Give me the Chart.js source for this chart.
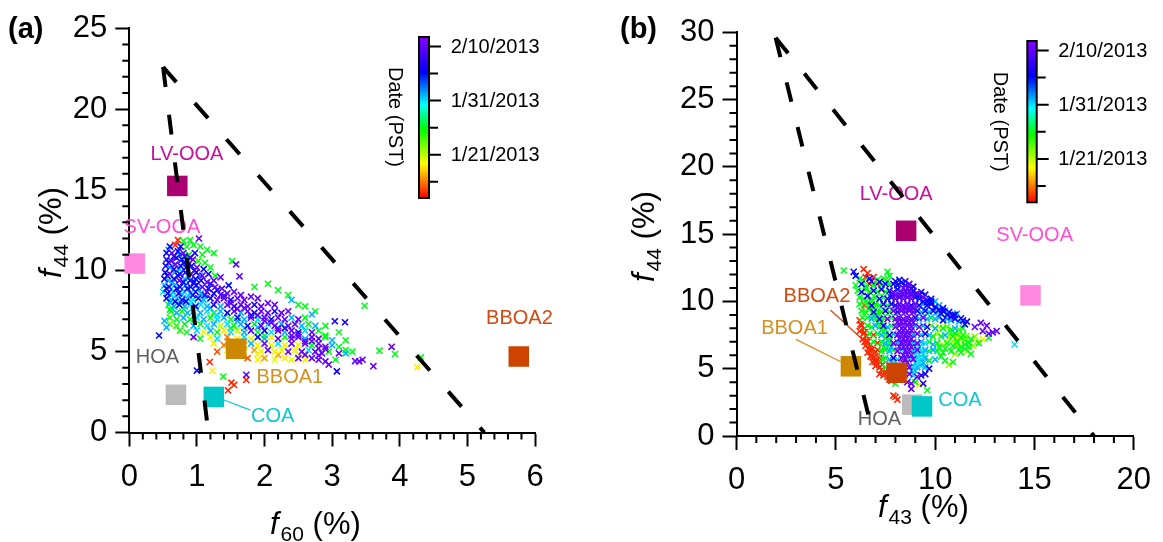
<!DOCTYPE html>
<html>
<head>
<meta charset="utf-8">
<script src="https://cdn.jsdelivr.net/npm/chart.js@4.4.1/dist/chart.umd.min.js"></script>
<style>
  html, body { margin: 0; padding: 0; background: #fff; }
  #wrap { position: relative; width: 1163px; height: 542px; }
  canvas { position: absolute; top: 0; }
  #chartA { left: 0; }
  #chartB { left: 580px; }
</style>
</head>
<body>
<div id="wrap">
  <canvas id="chartA" width="580" height="542"></canvas>
  <canvas id="chartB" width="583" height="542"></canvas>
</div>
<script>
const FONT = '"Liberation Sans", Arial, sans-serif';

// PMF factor profiles
const factorNames = ['LV-OOA', 'SV-OOA', 'HOA', 'COA', 'BBOA1', 'BBOA2'];
const factorF44 = [15.25, 10.45, 2.33, 2.2, 5.18, 4.7];
const factorF60 = [0.71, 0.08, 0.69, 1.25, 1.58, 5.76];
const factorF43 = [8.54, 14.8, 8.85, 9.34, 5.76, 8.06];

// triangle guide lines (apex, left end, right end)
const triF60 = [0.5, 1.17, 5.25];
const triF44A = [22.6, 0, 0];
const triF43 = [1.97, 6.9, 18.0];
const triF44B = [29.6, 0, 0];

// colour bar: day 0 = 1/13/2013
const dayMax = 29.75;
const cbarTickDays = [8, 18, 28];
const cbarTickLabels = ['1/21/2013', '1/31/2013', '2/10/2013'];
const cbarMinorDays = [3, 13, 23];

// observations [f60, f44, day]
const obsA = [
  [0.72,11.9,1],[0.8,11.85,13],[0.9,11.9,13],[1.03,12.0,28],
  [0.6,11.5,23],[0.68,11.6,1],[0.76,11.5,23],[0.85,11.5,13],[0.95,11.6,13],[1.05,11.5,13],[1.15,11.3,13],
  [0.55,11.1,24],[0.63,11.1,28],[0.72,11.2,23],[0.8,11.1,28],[0.88,11.0,13],[0.97,11.1,24],[1.08,11.0,13],[1.25,11.1,13],
  [0.55,10.7,23],[0.62,10.6,28],[0.7,10.8,24],[0.78,10.7,23],[0.86,10.6,23],[0.94,10.7,28],[1.02,10.6,12],[1.12,10.5,13],
  [0.54,10.3,24],[0.6,10.2,19],[0.68,10.4,28],[0.76,10.3,23],[0.84,10.2,23],[0.92,10.3,24],[1.0,10.2,28],[1.1,10.1,23],[1.2,10.2,13],
  [0.53,9.9,23],[0.6,9.8,28],[0.67,9.9,19],[0.75,9.8,23],[0.83,9.9,24],[0.91,9.8,28],[0.99,9.9,23],[1.08,9.7,28],[1.17,9.8,24],[1.27,9.7,13],
  [0.52,9.5,24],[0.58,9.4,19],[0.66,9.5,23],[0.74,9.4,28],[0.82,9.5,19],[0.9,9.4,24],[0.98,9.5,23],[1.06,9.4,23],[1.15,9.3,28],[1.25,9.4,28],[1.35,9.6,28],
  [0.52,9.1,19],[0.59,9.0,24],[0.67,9.1,18],[0.75,9.0,23],[0.83,9.1,19],[0.91,9.0,23],[0.99,9.1,24],[1.08,9.0,28],[1.17,8.9,23],[1.27,9.0,28],[1.37,8.9,28],[1.47,9.1,23],
  [0.5,8.7,18],[0.57,8.6,23],[0.65,8.7,19],[0.73,8.6,24],[0.81,8.7,18],[0.9,8.6,19],[0.98,8.7,23],[1.06,8.6,19],[1.15,8.7,28],[1.25,8.6,24],[1.35,8.5,28],[1.45,8.6,28],[1.55,8.7,28],[1.65,8.5,28],
  [0.55,8.3,24],[0.62,8.2,19],[0.7,8.3,18],[0.78,8.2,23],[0.86,8.3,19],[0.94,8.2,18],[1.02,8.3,24],[1.1,8.2,19],[1.2,8.3,23],[1.3,8.2,28],[1.4,8.3,28],[1.5,8.2,24],[1.6,8.3,28],[1.7,8.2,28],[1.8,8.4,28],[1.9,8.3,28],
  [0.58,7.9,13],[0.66,7.8,19],[0.74,7.9,23],[0.82,7.8,19],[0.9,7.9,18],[0.98,7.8,23],[1.06,7.9,18],[1.15,7.8,19],[1.25,7.9,24],[1.35,7.8,19],[1.45,7.9,28],[1.55,7.8,23],[1.65,7.9,28],[1.75,7.8,28],[1.85,7.9,24],[1.95,7.8,28],[2.05,8.0,28],[2.15,7.9,28],
  [0.62,7.5,13],[0.7,7.4,19],[0.78,7.5,12],[0.86,7.4,19],[0.95,7.5,18],[1.05,7.4,19],[1.15,7.5,18],[1.25,7.4,13],[1.35,7.5,19],[1.45,7.4,23],[1.55,7.5,28],[1.65,7.4,19],[1.75,7.5,28],[1.85,7.4,24],[1.95,7.5,28],[2.05,7.4,28],[2.15,7.5,24],[2.25,7.4,28],[2.35,7.5,28],
  [0.6,7.1,12],[0.7,7.0,13],[0.8,7.1,19],[0.9,7.0,13],[1.0,7.1,18],[1.1,7.0,19],[1.2,7.1,13],[1.3,7.0,18],[1.4,7.1,19],[1.5,7.0,13],[1.6,7.1,23],[1.7,7.0,19],[1.8,7.1,28],[1.9,7.0,18],[2.0,7.1,28],[2.1,7.0,23],[2.2,7.1,28],[2.3,7.0,28],[2.4,7.1,19],[2.5,7.0,28],[2.6,7.1,13],
  [0.6,6.7,10],[0.7,6.6,12],[0.82,6.7,13],[0.95,6.6,19],[1.05,6.7,13],[1.15,6.6,18],[1.25,6.7,19],[1.35,6.6,8],[1.45,6.7,18],[1.55,6.6,13],[1.65,6.7,19],[1.75,6.6,23],[1.85,6.7,13],[1.95,6.6,28],[2.05,6.7,18],[2.15,6.6,28],[2.25,6.7,19],[2.35,6.6,28],[2.45,6.7,28],[2.55,6.6,19],[2.65,6.7,13],[2.75,6.6,19],
  [0.75,6.3,12],[0.85,6.2,13],[1.0,6.3,18],[1.1,6.2,7],[1.2,6.3,19],[1.3,6.2,13],[1.4,6.3,6],[1.5,6.2,18],[1.6,6.3,8],[1.7,6.2,19],[1.8,6.3,28],[1.9,6.2,13],[2.0,6.3,23],[2.1,6.2,18],[2.2,6.3,28],[2.3,6.2,19],[2.4,6.3,28],[2.5,6.2,24],[2.6,6.3,18],[2.7,6.2,28],[2.8,6.3,13],[2.9,6.0,13],
  [0.95,5.9,28],[1.05,5.8,13],[1.2,5.9,7],[1.3,5.8,18],[1.45,5.9,3],[1.6,5.8,6],[1.7,5.9,18],[1.8,5.8,7],[1.9,5.9,23],[2.0,5.8,19],[2.1,5.9,6],[2.2,5.8,28],[2.3,5.9,13],[2.4,5.8,28],[2.5,5.9,28],[2.6,5.8,19],[2.7,5.9,28],[2.8,5.8,28],[2.9,5.9,13],[3.0,5.7,19],
  [1.25,5.5,6],[1.4,5.4,3],[1.55,5.5,7],[1.7,5.4,4],[1.8,5.5,19],[1.9,5.4,6],[2.0,5.5,28],[2.1,5.4,7],[2.2,5.5,18],[2.3,5.4,6],[2.4,5.5,28],[2.5,5.4,7],[2.6,5.5,28],[2.7,5.4,13],[2.8,5.5,28],[2.9,5.3,28],[3.0,5.4,19],[3.1,5.3,13],[3.2,5.1,13],
  [1.3,5.0,2],[1.45,5.1,7],[1.7,5.0,6],[1.85,5.1,4],[1.95,5.0,7],[2.05,5.1,28],[2.15,5.0,6],[2.25,5.1,7],[2.35,5.0,28],[2.45,5.1,6],[2.55,5.0,28],[2.65,5.1,18],[2.75,5.0,28],[2.85,4.9,28],[2.95,5.0,13],[3.1,4.9,28],[3.2,4.9,19],[3.3,5.0,13],
  [1.75,4.6,2],[1.9,4.5,6],[2.0,4.6,4],[2.15,4.5,7],[2.3,4.6,6],[2.4,4.5,7],[2.5,4.6,28],[2.6,4.5,6],[2.7,4.6,28],[2.8,4.5,28],[2.9,4.4,28],[2.95,4.2,28],[3.05,4.5,13],[3.4,4.4,28],[3.45,4.5,28],
  [0.44,6.0,23],[1.0,3.83,23],[1.23,3.83,6],[1.19,4.36,1],[1.39,3.46,13],[1.51,3.08,1],[1.55,2.94,1],[1.46,2.6,1],[1.73,3.57,28],[1.73,3.25,1],
  [1.52,10.6,13],[1.58,10.4,28],[1.63,9.66,28],[3.04,6.88,24],[3.19,6.82,24],[3.48,7.84,13],[3.61,4.1,28],[3.88,5.3,28],[3.93,4.85,13],
  [4.26,4.04,6],[4.31,4.64,13],[3.7,5.06,13],[3.34,4.42,28],[3.07,3.78,24],[1.85,9.0,13],[2.05,9.2,13],[2.2,8.8,13],[2.35,8.5,13],
  [2.6,7.8,13],[2.75,7.5,13],[0.55,6.5,19],[0.52,6.9,19],[0.6,7.6,13],[2.5,7.9,13],[2.7,7.3,19],[2.9,6.6,13],[3.1,6.2,13],[3.2,5.7,13],[2.4,8.2,19],
  [0.58,11.3,19],[0.66,10.9,23],[0.74,11.0,19],[0.82,10.9,23],[0.9,10.8,24],[0.58,10.5,23],[0.66,10.1,23],[0.74,10.1,19],[0.8,10.5,23],[0.88,10.4,19],
  [0.96,10.0,23],[0.56,9.7,23],[0.64,9.3,19],[0.72,9.7,23],[0.8,9.3,23],[0.88,9.6,19],[0.96,9.3,23],[1.04,9.7,19],[0.55,8.9,23],[0.62,8.5,18],
  [0.7,8.9,23],[0.78,8.5,19],[0.86,8.9,23],[0.94,8.5,23],[1.02,8.9,19],[1.12,8.5,23],[0.6,8.05,19],[0.68,8.1,23],[0.76,8.05,18],[0.84,8.1,23],
  [1.2,9.2,23],[1.3,8.8,23],[1.4,8.45,24],[1.5,8.0,28],[1.6,7.65,28],[1.7,7.7,28],[1.8,7.25,24],[1.9,7.25,28],[2.0,6.9,28],[2.1,6.8,28],
  [2.2,6.45,28],[2.3,6.45,24],[2.4,6.0,28],[2.5,6.05,28],[2.6,5.65,28],[2.7,5.65,28],[2.8,5.2,28],[2.9,5.15,28],[2.6,4.8,28],[2.8,4.75,28],
  [1.2,7.7,19],[1.1,8.45,18],[1.3,7.25,18],[1.6,6.9,19],[1.7,6.45,18],[1.5,6.45,13],[1.9,6.5,19],[2.0,6.0,13],[1.6,5.2,7],[1.9,4.85,6],[2.2,4.8,4],[2.5,4.8,7]
];

// observations [f43, f44, day]
const obsB = [
  [5.4,12.3,13],[5.9,12.2,24],[6.4,12.4,1],[6.6,12.1,1],[7.6,12.2,13],
  [6.0,11.9,23],[6.2,11.7,13],[6.5,11.8,1],[6.7,11.7,24],[6.9,11.8,1],[7.1,11.6,13],[7.4,11.7,13],[7.7,11.9,13],[8.2,11.6,23],[8.5,11.5,24],
  [6.0,11.2,13],[6.3,11.3,23],[6.5,11.1,13],[6.7,11.3,1],[6.9,11.2,13],[7.1,11.3,1],[7.3,11.2,13],[7.5,11.3,23],[7.7,11.2,13],[7.9,11.3,24],[8.1,11.2,23],[8.3,11.4,24],[8.5,11.2,23],[8.7,11.3,28],[8.9,11.1,24],
  [6.1,10.8,13],[6.3,10.7,24],[6.5,10.9,13],[6.7,10.7,13],[6.9,10.8,23],[7.1,10.7,13],[7.3,10.9,24],[7.5,10.7,13],[7.7,10.8,23],[7.9,10.7,28],[8.1,10.9,23],[8.3,10.7,28],[8.5,10.8,24],[8.7,10.7,28],[8.9,10.8,23],[9.1,10.6,28],[9.3,10.7,24],[9.5,10.5,23],
  [6.2,10.3,13],[6.4,10.2,13],[6.6,10.4,24],[6.8,10.2,13],[7.0,10.3,13],[7.2,10.2,23],[7.4,10.3,13],[7.6,10.2,24],[7.8,10.3,23],[8.0,10.2,28],[8.2,10.3,24],[8.4,10.2,28],[8.6,10.3,28],[8.8,10.2,28],[9.0,10.3,24],[9.2,10.2,23],[9.4,10.3,28],[9.6,10.1,24],[9.8,10.2,23],[10.0,10.0,19],
  [6.2,9.8,13],[6.45,9.7,1],[6.6,9.9,13],[6.8,9.7,24],[7.0,9.8,13],[7.2,9.7,13],[7.4,9.8,23],[7.6,9.7,13],[7.8,9.8,24],[8.0,9.7,23],[8.2,9.8,28],[8.4,9.7,28],[8.6,9.8,28],[8.8,9.7,24],[9.0,9.8,28],[9.2,9.7,23],[9.4,9.8,19],[9.6,9.7,24],[9.8,9.8,23],[10.0,9.6,24],[10.2,9.7,19],[10.4,9.5,23],
  [6.3,9.3,13],[6.5,9.2,13],[6.7,9.4,13],[6.9,9.2,23],[7.1,9.3,13],[7.3,9.2,13],[7.5,9.3,24],[7.7,9.2,13],[7.9,9.3,28],[8.1,9.2,23],[8.3,9.3,28],[8.5,9.2,28],[8.7,9.3,28],[8.9,9.2,28],[9.1,9.3,24],[9.3,9.2,19],[9.5,9.3,23],[9.7,9.2,19],[9.9,9.3,24],[10.1,9.2,19],[10.3,9.1,23],[10.5,9.3,19],[10.7,9.2,23],[10.9,9.0,24],[11.1,9.1,19],
  [6.2,8.6,1],[6.35,8.8,13],[6.6,8.8,13],[6.8,8.7,19],[7.0,8.8,13],[7.2,8.7,23],[7.4,8.8,13],[7.6,8.7,28],[7.8,8.8,13],[8.0,8.7,28],[8.2,8.8,28],[8.4,8.7,28],[8.6,8.8,28],[8.8,8.7,28],[9.0,8.8,24],[9.2,8.7,19],[9.4,8.8,28],[9.6,8.7,19],[9.8,8.8,13],[10.0,8.7,19],[10.2,8.8,19],[10.4,8.6,23],[10.6,8.7,19],[10.8,8.6,19],[11.0,8.7,23],[11.2,8.5,19],[11.4,8.6,24],[11.6,8.5,23],[12.3,8.4,28],[12.6,8.2,28],
  [6.3,8.2,1],[6.45,8.0,1],[6.6,8.2,13],[6.8,8.1,13],[7.0,8.2,19],[7.2,8.1,13],[7.4,8.2,24],[7.6,8.1,19],[7.8,8.2,13],[8.0,8.1,28],[8.2,8.2,28],[8.4,8.1,28],[8.6,8.2,28],[8.8,8.1,28],[9.0,8.2,19],[9.2,8.1,28],[9.4,8.2,19],[9.6,8.1,24],[9.8,8.2,9],[10.0,8.0,19],[10.2,8.1,8],[10.4,8.0,13],[10.6,8.1,10],[10.8,7.9,13],[11.0,8.0,19],[11.2,7.9,11],[11.4,8.0,13],[12.0,8.1,28],[12.4,7.8,28],[12.7,7.6,28],[12.9,7.7,28],[13.1,7.8,28],
  [6.4,7.6,1],[6.55,7.4,1],[6.7,7.6,13],[6.9,7.5,1],[7.1,7.6,13],[7.3,7.5,19],[7.5,7.6,13],[7.7,7.5,24],[7.9,7.6,19],[8.1,7.5,28],[8.3,7.6,28],[8.5,7.5,28],[8.7,7.6,28],[8.9,7.5,19],[9.1,7.6,28],[9.3,7.5,19],[9.5,7.6,24],[9.7,7.5,19],[9.9,7.4,13],[10.1,7.6,8],[10.3,7.4,13],[10.5,7.5,19],[10.7,7.3,9],[10.9,7.4,13],[11.1,7.2,8],[11.3,7.3,13],[11.5,7.1,11],[11.8,7.2,13],[12.1,7.0,8],[12.4,7.2,7],[12.7,7.3,13],
  [6.6,7.0,1],[6.75,6.8,1],[6.9,7.0,13],[7.1,6.9,1],[7.3,7.0,13],[7.5,6.9,19],[7.7,7.0,13],[7.9,6.9,28],[8.1,7.0,19],[8.3,6.9,28],[8.5,7.0,28],[8.7,6.9,28],[8.9,7.0,19],[9.1,6.9,28],[9.3,7.0,19],[9.5,6.9,18],[9.7,7.0,13],[9.9,6.8,19],[10.1,6.9,13],[10.4,6.8,8],[10.6,6.9,13],[10.9,6.7,13],[11.1,6.8,9],[11.3,6.6,13],[11.5,6.8,13],[11.7,6.6,13],[11.9,6.7,9],[12.2,6.9,13],[14.0,6.8,18],
  [6.8,6.4,1],[6.95,6.2,1],[7.1,6.4,1],[7.3,6.3,13],[7.5,6.4,13],[7.7,6.3,19],[7.9,6.4,13],[8.1,6.3,28],[8.3,6.4,18],[8.5,6.3,28],[8.7,6.4,28],[8.9,6.3,18],[9.1,6.4,28],[9.3,6.3,18],[9.5,6.4,19],[9.7,6.3,13],[9.9,6.4,19],[10.1,6.3,13],[10.4,6.2,13],[10.8,6.3,13],[11.0,6.1,9],[11.3,6.2,13],[11.6,6.3,9],[11.8,6.1,13],
  [6.9,5.8,1],[7.05,5.6,1],[7.2,5.8,1],[7.35,5.7,13],[7.5,5.8,13],[7.7,5.7,19],[7.9,5.8,24],[8.1,5.7,18],[8.3,5.8,28],[8.5,5.7,28],[8.7,5.8,18],[8.9,5.7,28],[9.1,5.8,18],[9.3,5.7,18],[9.5,5.8,19],[9.7,5.6,13],[10.0,5.7,19],[10.5,5.6,13],[10.9,5.5,13],[10.7,5.3,9],
  [7.0,5.2,1],[7.2,5.1,1],[7.35,5.3,1],[7.5,5.1,13],[7.7,5.2,19],[7.9,5.1,18],[8.1,5.2,18],[8.3,5.1,28],[8.5,5.2,18],[8.7,5.1,28],[8.9,5.2,18],[9.1,5.1,19],[9.3,5.2,18],[9.5,5.1,19],[9.7,5.0,24],
  [7.2,4.6,1],[7.4,4.5,1],[7.6,4.4,1],[8.3,4.6,19],[8.5,4.5,18],[8.7,4.6,28],[8.9,4.5,18],[9.1,4.4,28],[9.3,4.5,24],[9.5,4.6,24],
  [7.8,4.1,1],[8.0,3.9,13],[8.6,4.0,28],[8.8,3.9,28],[9.0,4.0,13],[9.2,3.8,6],[9.4,3.9,24],[9.6,3.4,13],[8.8,3.5,28],
  [7.9,3.0,1],[8.1,2.7,1],[8.0,2.9,1],
  [6.2,7.8,1],[6.35,7.2,1],[6.5,6.7,1],[6.6,6.2,1],[6.75,5.9,1],[6.85,5.5,1],[7.0,5.5,1],[6.45,7.0,1],[6.65,6.5,1],[6.9,5.9,1],[7.25,5.5,1],
  [6.4,11.5,13],[6.8,11.5,24],[7.2,11.45,23],[7.6,11.5,13],[8.0,11.5,23],[8.4,11.0,28],[8.6,11.0,28],[8.8,10.95,24],[7.8,10.5,24],[8.0,10.45,28],
  [8.2,10.5,28],[8.4,10.45,28],[8.6,10.55,28],[8.8,10.45,28],[9.0,10.5,24],[9.2,10.45,23],[9.4,10.0,23],[9.6,9.95,23],[9.8,10.0,24],[10.2,9.4,23],
  [10.4,9.3,24],[10.6,9.0,23],[10.8,8.85,23],[11.0,9.0,23],[11.3,8.75,24],[11.5,8.3,23],[8.1,9.5,28],[8.3,9.55,28],[8.5,9.45,28],[8.7,9.5,28],
  [8.9,9.45,28],[8.1,8.45,28],[8.3,8.5,28],[8.5,8.45,28],[8.7,8.4,28],[8.9,8.45,28],[8.2,7.8,28],[8.4,7.85,28],[8.6,7.8,28],[8.8,7.85,28],
  [8.2,7.25,28],[8.4,7.2,28],[8.6,7.25,28],[8.8,7.2,28],[8.2,6.65,28],[8.4,6.6,28],[8.6,6.65,28],[8.8,6.6,28],[8.4,6.0,28],[8.6,6.05,28],
  [8.8,6.0,28],[8.4,5.45,28],[8.6,5.45,28],[9.0,6.65,18],[9.2,6.6,18],[9.0,6.05,18],[9.2,6.05,18],[9.4,6.1,18],[9.0,5.45,18],[9.2,5.5,18],
  [9.4,5.45,19],[7.8,5.45,18],[8.0,5.5,18],[8.2,4.9,18],[8.4,4.85,18],[8.8,4.85,18],[9.0,4.85,19],[7.4,6.6,13],[7.6,6.65,13],[7.8,6.6,19],
  [7.5,7.25,13],[7.7,7.2,13],[7.3,7.85,13],[7.5,7.9,13],[7.1,8.45,13],[7.3,8.5,13],[6.9,9.0,13],[7.1,9.05,13],[6.7,9.55,13],[6.9,9.5,13],
  [6.5,10.0,13],[6.8,10.0,13],[10.8,7.7,11],[11.0,7.65,13],[11.2,7.6,9],[11.4,7.5,13],[11.6,7.45,10],[10.9,7.05,9],[11.1,7.0,13],[11.4,6.95,8],
  [11.7,6.9,13],[12.0,7.4,9],[11.2,6.45,13],[11.5,6.5,13],[10.5,6.5,13],[10.2,6.6,13],[10.3,5.9,13],[6.25,8.3,1],[6.45,7.7,1],[6.55,7.1,1],
  [6.7,6.35,1],[6.8,6.0,1],[6.95,5.65,1],[7.1,5.35,1],[7.3,4.9,1],[7.5,4.8,1]
];

const factorColors = ['#AA0070', '#FF88E2', '#BBBBBB', '#00C8C8', '#CC8800', '#CC4400'];
const labelColors = ['#C8109E', '#FF4FCF', '#606060', '#10C8D0', '#D49020', '#D04A10'];

const hueStops = [[0, 0], [6.4, 60], [12.6, 120], [17.3, 180], [23.2, 240], [29.75, 272]];
function dayColor(d) {
  let h = 272;
  for (let i = 1; i < hueStops.length; i++) {
    if (d <= hueStops[i][0]) {
      const [d0, h0] = hueStops[i - 1], [d1, h1] = hueStops[i];
      h = h0 + (h1 - h0) * (d - d0) / (d1 - d0);
      break;
    }
  }
  return `hsl(${h.toFixed(1)},100%,50%)`;
}

function drawTitle(ctx, x, y, rotate, sub) {
  ctx.save();
  ctx.translate(x, y);
  if (rotate) ctx.rotate(-Math.PI / 2);
  ctx.fillStyle = '#000';
  ctx.textAlign = 'left';
  ctx.textBaseline = 'alphabetic';
  ctx.font = 'italic 31px ' + FONT;
  ctx.fillText('f', 0, 0);
  let cx = ctx.measureText('f').width + 2;
  ctx.font = '21px ' + FONT;
  ctx.fillText(sub, cx, 7);
  cx += ctx.measureText(sub).width;
  ctx.font = '31px ' + FONT;
  ctx.fillText(' (%)', cx, 0);
  ctx.restore();
}

function drawColorbar(ctx, cb) {
  const { left, right, top, bottom } = cb;
  const g = ctx.createLinearGradient(0, bottom, 0, top);
  hueStops.forEach(s => g.addColorStop(s[0] / dayMax, dayColor(s[0])));
  ctx.fillStyle = g;
  ctx.fillRect(left, top, right - left, bottom - top);
  ctx.strokeStyle = '#000';
  ctx.lineWidth = 2;
  ctx.strokeRect(left, top, right - left, bottom - top);
  const yOf = d => bottom - d / dayMax * (bottom - top);
  ctx.beginPath();
  cbarTickDays.forEach(d => { ctx.moveTo(right, yOf(d)); ctx.lineTo(right + 12, yOf(d)); });
  cbarMinorDays.forEach(d => { ctx.moveTo(right, yOf(d)); ctx.lineTo(right + 9, yOf(d)); });
  ctx.stroke();
  ctx.fillStyle = '#000';
  ctx.font = '20px ' + FONT;
  ctx.textAlign = 'left';
  ctx.textBaseline = 'middle';
  cbarTickDays.forEach((d, i) => ctx.fillText(cbarTickLabels[i], cb.labelX, yOf(d) + 1));
  ctx.save();
  ctx.translate(cb.titleX, cb.titleY);
  ctx.rotate(Math.PI / 2);
  ctx.textBaseline = 'alphabetic';
  ctx.fillText('Date (PST)', 0, 0);
  ctx.restore();
}

const decor = {
  id: 'decor',
  beforeDatasetsDraw(chart, args, o) {
    const { ctx } = chart;
    const xs = chart.scales.x, ys = chart.scales.y;
    ctx.save();
    (o.leaders || []).forEach(l => {
      ctx.strokeStyle = labelColors[factorNames.indexOf(l.name)];
      ctx.lineWidth = 1.3;
      ctx.beginPath();
      ctx.moveTo(xs.getPixelForValue(l.from[0]), ys.getPixelForValue(l.from[1]));
      ctx.lineTo(xs.getPixelForValue(l.to[0]), ys.getPixelForValue(l.to[1]));
      ctx.stroke();
    });
    ctx.font = '20px ' + FONT;
    ctx.textAlign = 'center';
    ctx.textBaseline = 'middle';
    factorNames.forEach((n, i) => {
      const p = o.labels[n];
      ctx.fillStyle = labelColors[i];
      ctx.fillText(n, xs.getPixelForValue(p[0]), ys.getPixelForValue(p[1]));
    });
    ctx.restore();
  },
  afterDraw(chart, args, o) {
    const { ctx, chartArea } = chart;
    const xs = chart.scales.x, ys = chart.scales.y;
    ctx.save();
    ctx.strokeStyle = '#000';
    ctx.lineWidth = 2;
    ctx.beginPath();
    const nx = Math.round((xs.max - xs.min) / o.xMinor);
    for (let i = 0; i <= nx; i++) {
      const v = xs.min + i * o.xMinor;
      const r = v / o.xMajor;
      if (Math.abs(r - Math.round(r)) < 1e-6) continue;
      const px = xs.getPixelForValue(v);
      ctx.moveTo(px, chartArea.bottom);
      ctx.lineTo(px, chartArea.bottom + 7);
    }
    const ny = Math.round((ys.max - ys.min) / o.yMinor);
    for (let i = 0; i <= ny; i++) {
      const v = ys.min + i * o.yMinor;
      const r = v / o.yMajor;
      if (Math.abs(r - Math.round(r)) < 1e-6) continue;
      const py = ys.getPixelForValue(v);
      ctx.moveTo(chartArea.left, py);
      ctx.lineTo(chartArea.left - 7, py);
    }
    ctx.stroke();

    drawTitle(ctx, o.xTitle[0], o.xTitle[1], false, o.xTitle[2]);
    drawTitle(ctx, o.yTitle[0], o.yTitle[1], true, o.yTitle[2]);

    ctx.fillStyle = '#000';
    ctx.font = 'bold 29px ' + FONT;
    ctx.textAlign = 'left';
    ctx.textBaseline = 'alphabetic';
    ctx.fillText(o.letter[0], o.letter[1], o.letter[2]);

    drawColorbar(ctx, o.cbar);
    ctx.restore();
  }
};

function guideLine(xs, ys, end, dash) {
  return {
    type: 'line',
    data: [{ x: xs[0], y: ys[0] }, { x: xs[end], y: ys[end] }],
    borderColor: '#000',
    borderWidth: 4,
    borderDash: dash,
    borderCapStyle: 'butt',
    pointRadius: 0,
    fill: false,
    tension: 0,
    order: 0
  };
}

function makePanel(id, p) {
  const obs = p.obs.slice().sort((a, b) => a[2] - b[2]);
  const tickFont = { family: FONT, size: 31 };
  return new Chart(document.getElementById(id), {
    type: 'scatter',
    data: {
      datasets: [
        guideLine(p.triX, p.triY, 1, p.dash),
        guideLine(p.triX, p.triY, 2, p.dash),
        {
          data: p.factorX.map((x, i) => ({ x, y: factorF44[i] })),
          pointStyle: 'rect',
          pointRadius: 14.5,
          pointBorderWidth: 0,
          backgroundColor: factorColors,
          borderColor: factorColors,
          clip: false,
          order: 1
        },
        {
          data: obs.map(o => ({ x: o[0], y: o[1], d: o[2] })),
          pointStyle: 'crossRot',
          pointRadius: 4.3,
          borderWidth: 1.6,
          borderColor: c => (c.raw ? dayColor(c.raw.d) : '#000'),
          backgroundColor: c => (c.raw ? dayColor(c.raw.d) : '#000'),
          order: 2
        }
      ]
    },
    options: {
      responsive: false,
      animation: false,
      events: [],
      layout: { padding: { left: 0, top: p.padTop, right: p.padRight, bottom: 0 } },
      plugins: {
        legend: { display: false },
        tooltip: { enabled: false },
        decor: p.decor
      },
      scales: {
        x: {
          type: 'linear', position: 'bottom', min: 0, max: p.xMax,
          ticks: { stepSize: p.decor.xMajor, font: tickFont, color: '#000', padding: 12, maxRotation: 0, autoSkip: false },
          grid: { display: true, drawOnChartArea: false, drawTicks: true, tickLength: 14, tickColor: '#000', tickWidth: 2 },
          border: { display: true, color: '#000', width: 2 },
          afterFit: s => { s.height = p.xHeight; }
        },
        y: {
          type: 'linear', position: 'left', min: 0, max: p.yMax,
          ticks: { stepSize: p.decor.yMajor, font: tickFont, color: '#000', padding: 8, autoSkip: false },
          grid: { display: true, drawOnChartArea: false, drawTicks: true, tickLength: 14, tickColor: '#000', tickWidth: 2 },
          border: { display: true, color: '#000', width: 2 },
          afterFit: s => { s.width = p.yWidth; }
        }
      }
    },
    plugins: [decor]
  });
}

makePanel('chartA', {
  obs: obsA, factorX: factorF60, triX: triF60, triY: triF44A,
  xMax: 6, yMax: 25, yWidth: 129.3, xHeight: 109.5, padTop: 28.3, padRight: 45,
  dash: [20, 28],
  decor: {
    xMajor: 1, xMinor: 0.2, yMajor: 5, yMinor: 1,
    labels: {
      'LV-OOA': [0.852, 17.22], 'SV-OOA': [0.483, 12.71], 'HOA': [0.417, 4.61],
      'COA': [2.12, 0.98], 'BBOA1': [2.374, 3.4], 'BBOA2': [5.77, 7.03]
    },
    leaders: [{ name: 'COA', from: [1.4, 2.01], to: [1.79, 1.39] }],
    letter: ['(a)', 8, 37.5],
    xTitle: [270, 533.7, '60'],
    yTitle: [61, 278, '44'],
    cbar: { left: 419, right: 429, top: 37, bottom: 198, labelX: 450.7, titleX: 389, titleY: 67 }
  }
});

makePanel('chartB', {
  obs: obsB, factorX: factorF43, triX: triF43, triY: triF44B,
  xMax: 20, yMax: 30, yWidth: 156.5, xHeight: 106, padTop: 32.3, padRight: 20.3,
  dash: [20, 26],
  decor: {
    xMajor: 5, xMinor: 1, yMajor: 5, yMinor: 1,
    labels: {
      'LV-OOA': [8.04, 17.98], 'SV-OOA': [15.01, 14.9], 'HOA': [7.2, 1.26],
      'COA': [11.25, 2.62], 'BBOA1': [2.92, 8.02], 'BBOA2': [4.05, 10.36]
    },
    leaders: [
      { name: 'BBOA2', from: [4.73, 9.36], to: [7.47, 5.65] },
      { name: 'BBOA1', from: [2.99, 7.18], to: [5.25, 5.52] }
    ],
    letter: ['(b)', 40, 38],
    xTitle: [298, 517, '43'],
    yTitle: [74, 282, '44'],
    cbar: { left: 447.3, right: 456.7, top: 41, bottom: 202.3, labelX: 478.3, titleX: 414, titleY: 71.7 }
  }
});
</script>
</body>
</html>
